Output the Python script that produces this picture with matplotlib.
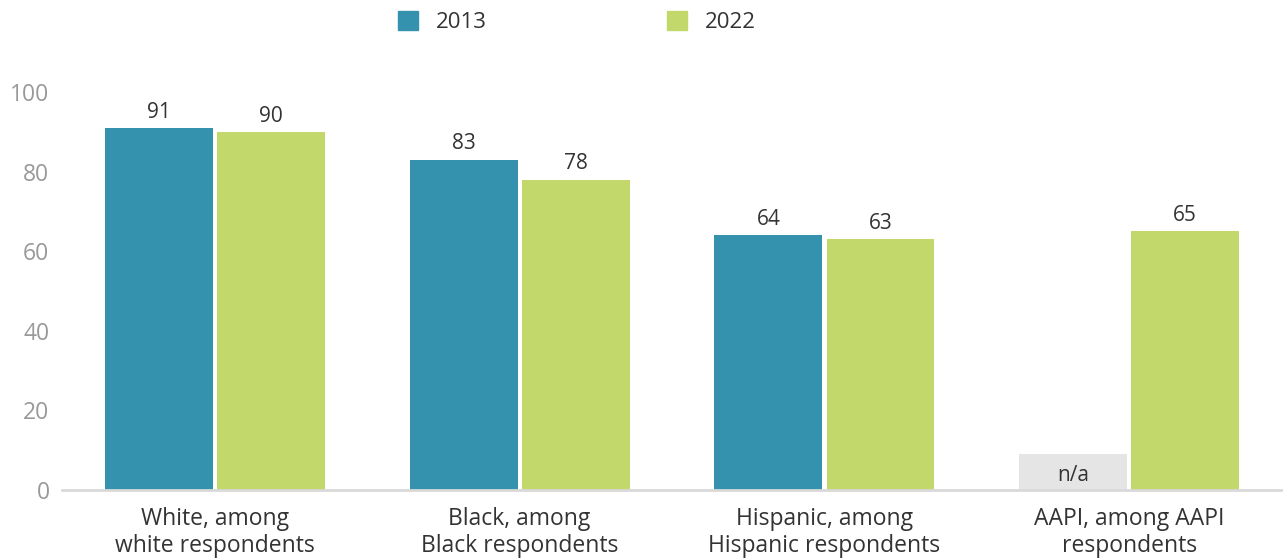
import matplotlib.pyplot as plt
from matplotlib.patches import Patch
import numpy as np

plt.rcParams['font.family'] = ['Open Sans', 'DejaVu Sans']

categories = ["White, among\nwhite respondents", "Black, among\nBlack respondents",
              "Hispanic, among\nHispanic respondents", "AAPI, among AAPI\nrespondents"]
series_names = ["2013", "2022"]
vals_2013 = [91, 83, 64, None]
vals_2022 = [90, 78, 63, 65]
na_height = 9

c2013 = '#3592ae'
c2022 = '#c2d86b'
cna = '#e5e5e5'

fig = plt.figure(figsize=(12.83, 5.58), dpi=100)
ax = fig.add_axes([62 / 1283, 1 - 490 / 558, 1 - 62 / 1283, (490 - 92) / 558])

x = np.arange(len(categories))
w = 0.354
off = 0.184

for i, (a, b) in enumerate(zip(vals_2013, vals_2022)):
    if a is None:
        ax.bar(x[i] - off, na_height, w, color=cna)
        ax.text(x[i] - off, na_height / 2 - 0.8, "n/a", ha='center', va='center',
                fontsize=15, color='#333333')
    else:
        ax.bar(x[i] - off, a, w, color=c2013)
        ax.text(x[i] - off, a + 1.3, str(a), ha='center', va='bottom',
                fontsize=15, color='#333333')
    ax.bar(x[i] + off, b, w, color=c2022)
    ax.text(x[i] + off, b + 1.3, str(b), ha='center', va='bottom',
            fontsize=15, color='#333333')

ax.set_xlim(-0.502, 3.505)
ax.set_ylim(0, 100)
ax.set_yticks([0, 20, 40, 60, 80, 100])
ax.tick_params(axis='y', length=0, labelsize=16.5, labelcolor='#999999', pad=9)
ax.set_xticks(x)
ax.set_xticklabels(categories, fontsize=16.5, color='#333333', linespacing=1.2)
ax.tick_params(axis='x', length=0, pad=12)

for s in ['top', 'right', 'left']:
    ax.spines[s].set_visible(False)
ax.spines['bottom'].set_color('#d9d9d9')
ax.spines['bottom'].set_linewidth(2)

handles = [Patch(color=c2013), Patch(color=c2022)]
fig.legend(handles, series_names, loc='center', bbox_to_anchor=(577 / 1283, 1 - 22 / 558),
           ncol=2, frameon=False, fontsize=16, handlelength=0.9, handleheight=0.9,
           handletextpad=0.8, columnspacing=8.1, labelcolor='#333333')

fig.savefig('out.png', dpi=100)
